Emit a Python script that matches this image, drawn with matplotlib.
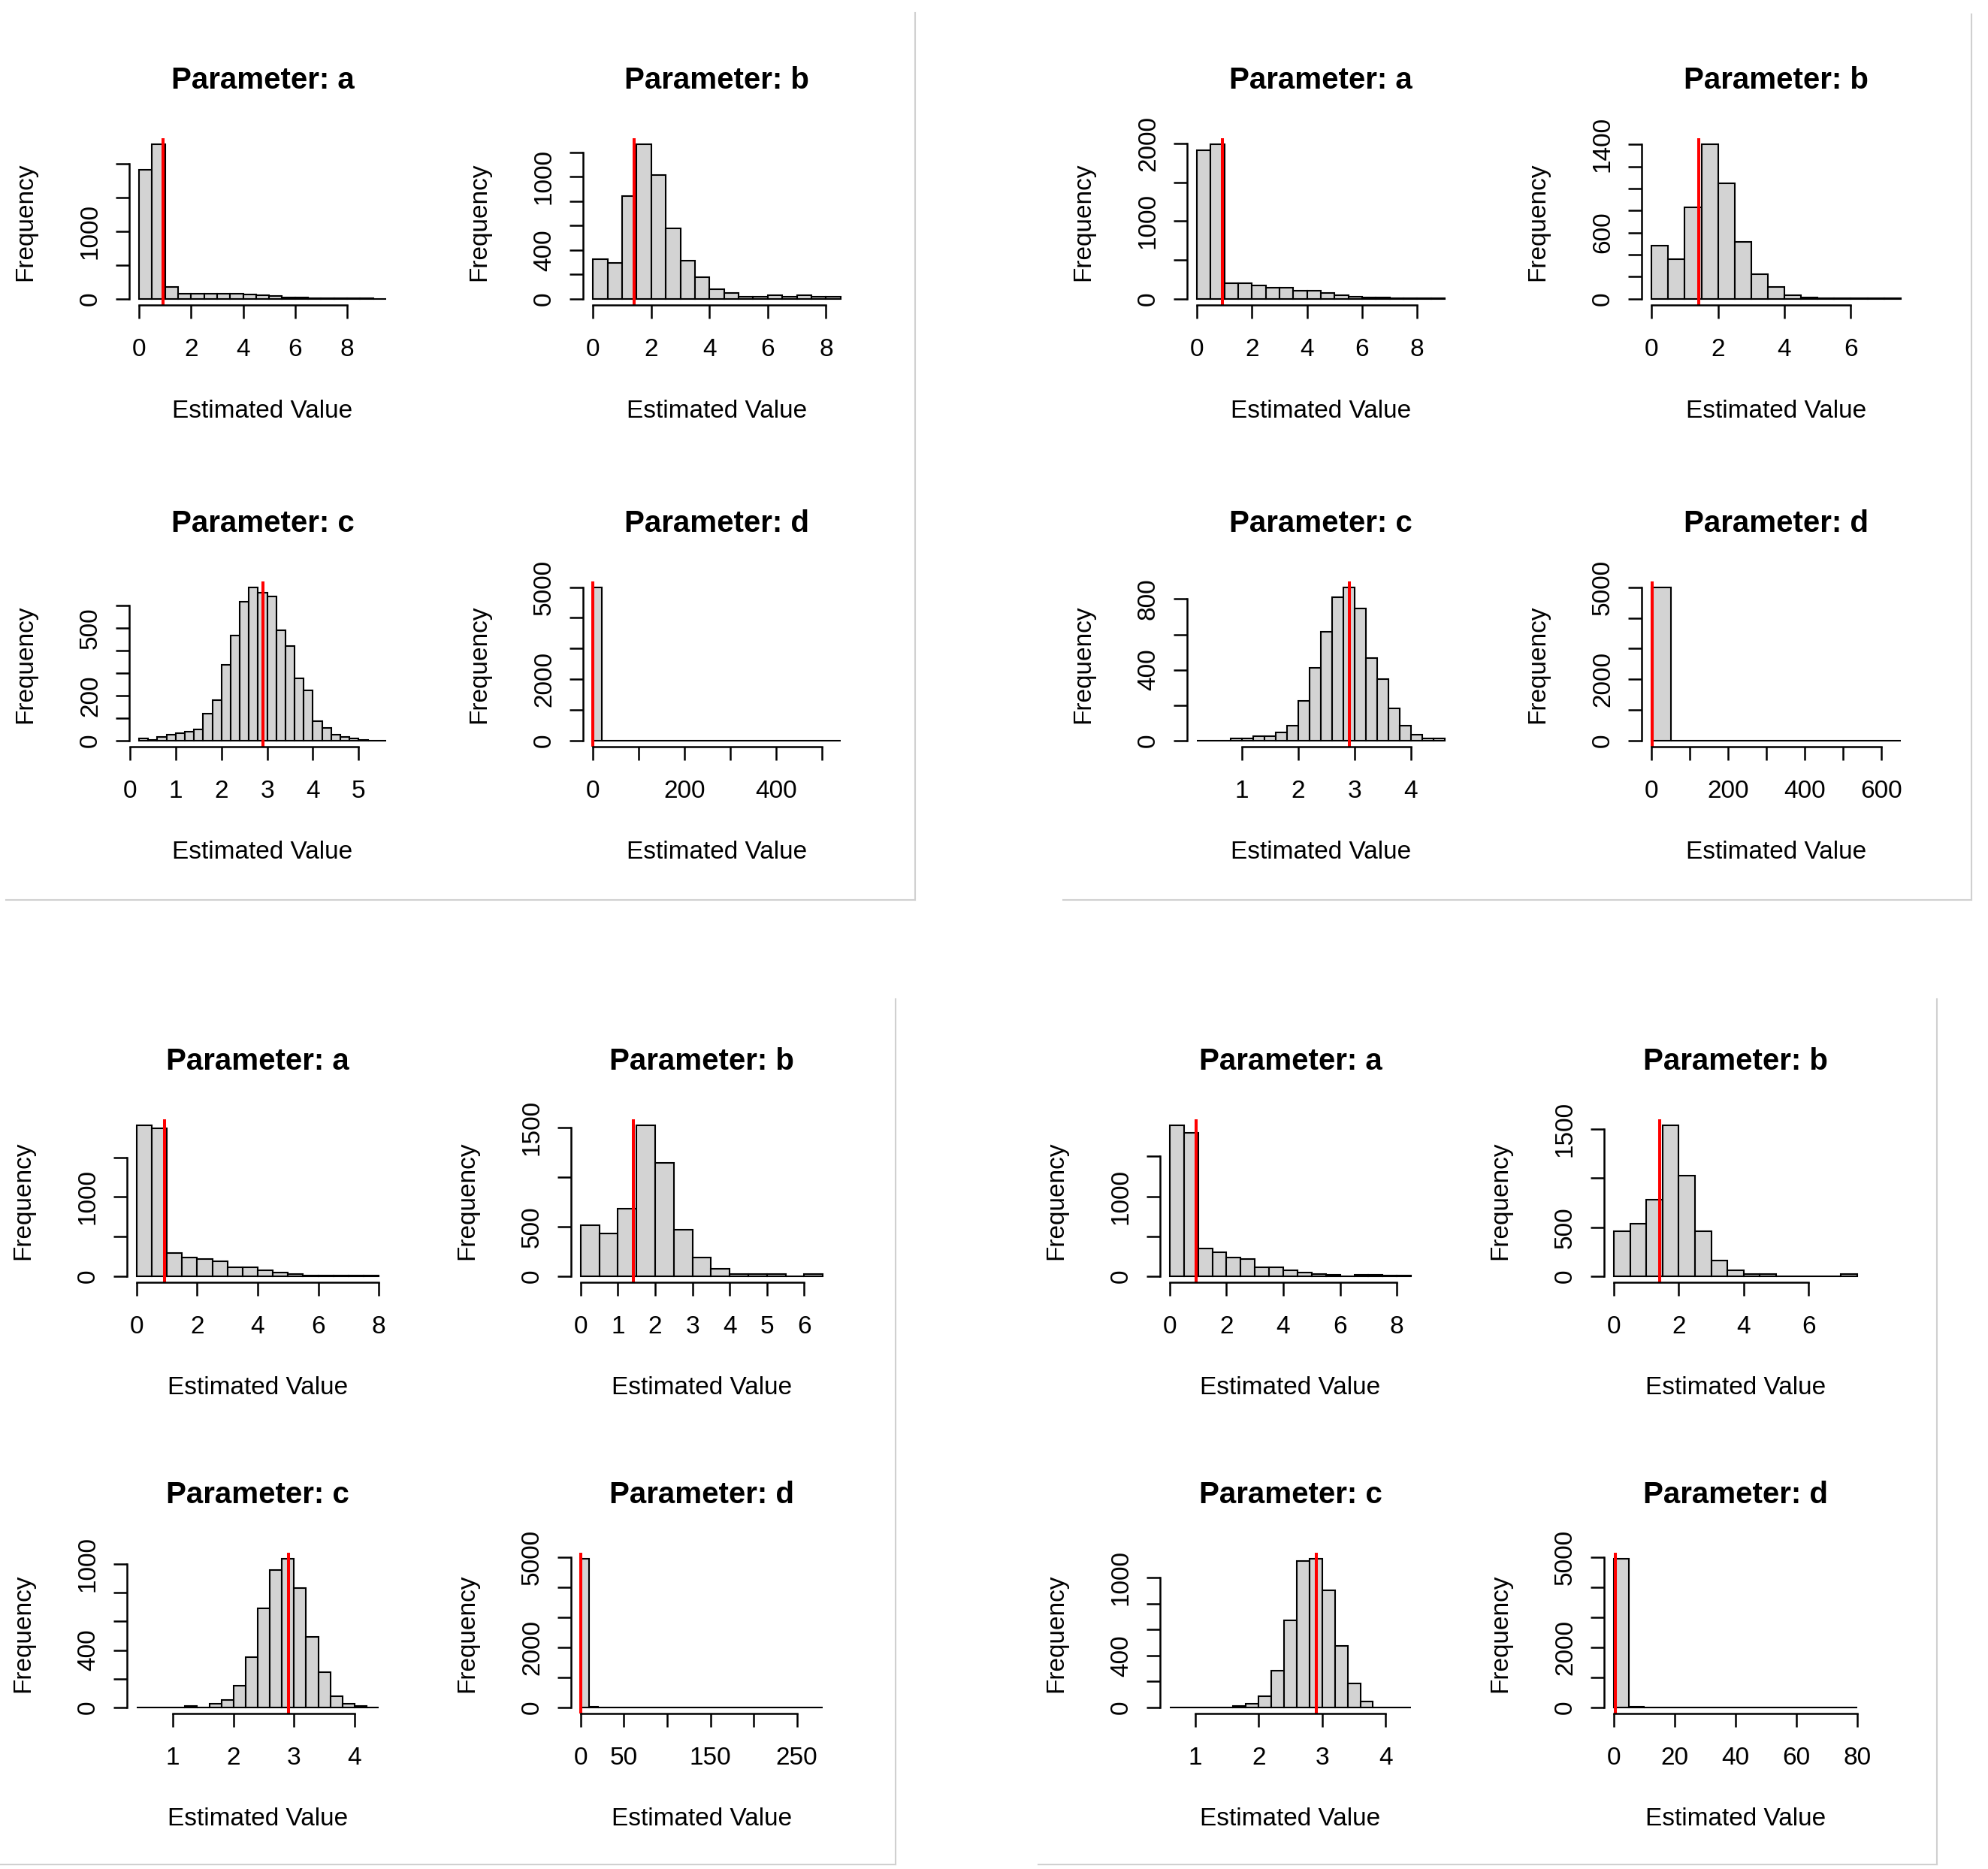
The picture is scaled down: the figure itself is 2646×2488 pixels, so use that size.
import numpy as np
import matplotlib
matplotlib.use('Agg')
import matplotlib.pyplot as plt
from matplotlib.lines import Line2D

W, H = 2646, 2488

# bin counts (one list per quadrant / parameter)
tl_a = [1919, 2293, 174, 80, 76, 75, 73, 72, 70, 50, 45, 20, 16, 13, 10, 8, 6, 4, 3]
tl_b = [326, 296, 842, 1264, 1013, 576, 311, 175, 79, 47, 19, 19, 32, 19, 30, 18, 15]
tl_c = [8, 3, 17, 25, 32, 40, 48, 120, 181, 338, 467, 616, 680, 658, 642, 489, 420,
        277, 224, 87, 56, 25, 16, 8, 2, 1, 1]
tl_d = [4985, 3, 2, 1, 1, 0, 1, 0, 0, 1, 0, 0, 0, 1, 0, 0, 0, 0, 1, 0, 0, 0, 0, 0, 1, 0, 1]

tr_a = [1910, 1990, 198, 198, 174, 147, 147, 100, 100, 74, 44, 25, 20, 15, 12, 10, 8, 6]
tr_b = [484, 361, 831, 1400, 1050, 515, 224, 106, 35, 10, 8, 5, 4, 3, 3]
tr_c = [0, 0, 0, 10, 11, 23, 23, 44, 86, 225, 412, 615, 810, 865, 747, 467, 347, 184,
        86, 34, 10, 10]
tr_d = [4990, 4, 2, 1, 0, 0, 1, 0, 0, 0, 0, 1, 1]

bl_a = [1903, 1864, 289, 236, 213, 190, 118, 118, 75, 46, 26, 12, 10, 8, 6, 5]
bl_b = [511, 428, 682, 1521, 1146, 472, 191, 79, 21, 21, 21, 3, 21]
bl_c = [0, 0, 0, 0, 13, 2, 27, 54, 154, 353, 691, 958, 1036, 832, 494, 248, 81, 27, 13, 1]
bl_d = [4960, 20, 6, 3, 2, 1, 1, 0, 1, 0, 1, 0, 0, 1, 0, 0, 0, 1, 0, 0, 0, 0, 0, 0, 1,
        0, 0, 1]

br_a = [1890, 1800, 352, 303, 238, 212, 117, 117, 75, 46, 26, 20, 3, 18, 15, 12, 10]
br_b = [457, 536, 780, 1540, 1027, 459, 159, 61, 21, 21, 3, 2, 2, 2, 20]
br_c = [0, 0, 0, 0, 0, 14, 30, 86, 285, 671, 1129, 1145, 900, 472, 185, 46, 0, 0, 1]
br_d = [4940, 30, 10, 5, 3, 2, 1, 1, 1, 0, 1, 0, 1, 0, 0, 1]

# first break and bin width
bins_a = (0, 0.5)
bins_b = (0, 0.5)
bins_c = {'tl': (0.2, 0.2), 'tr': (0.2, 0.2), 'bl': (0.4, 0.2), 'br': (0.6, 0.2)}
bins_d = {'tl': (0, 20), 'tr': (0, 50), 'bl': (0, 10), 'br': (0, 5)}

# true values (red lines)
true_vals = {'a': 0.93, 'b': 1.42, 'c': 2.91, 'd': 0.5}

# y ticks and the labels R kept
yt_tl = {'a': ([0, 500, 1000, 1500, 2000], [0, 1000]),
         'b': ([0, 200, 400, 600, 800, 1000, 1200], [0, 400, 1000]),
         'c': ([0, 100, 200, 300, 400, 500, 600], [0, 200, 500]),
         'd': ([0, 1000, 2000, 3000, 4000, 5000], [0, 2000, 5000])}
yt_tr = {'a': ([0, 500, 1000, 1500, 2000], [0, 1000, 2000]),
         'b': ([0, 200, 400, 600, 800, 1000, 1200, 1400], [0, 600, 1400]),
         'c': ([0, 200, 400, 600, 800], [0, 400, 800]),
         'd': ([0, 1000, 2000, 3000, 4000, 5000], [0, 2000, 5000])}
yt_bl = {'a': ([0, 500, 1000, 1500], [0, 1000]),
         'b': ([0, 500, 1000, 1500], [0, 500, 1500]),
         'c': ([0, 200, 400, 600, 800, 1000], [0, 400, 1000]),
         'd': ([0, 1000, 2000, 3000, 4000, 5000], [0, 2000, 5000])}
yt_br = {'a': ([0, 500, 1000, 1500], [0, 1000]),
         'b': ([0, 500, 1000, 1500], [0, 500, 1500]),
         'c': ([0, 200, 400, 600, 800, 1000], [0, 400, 1000]),
         'd': ([0, 1000, 2000, 3000, 4000, 5000], [0, 2000, 5000])}

# x ticks and the labels shown
xt_tl = {'a': ([0, 2, 4, 6, 8], [0, 2, 4, 6, 8]),
         'b': ([0, 2, 4, 6, 8], [0, 2, 4, 6, 8]),
         'c': ([0, 1, 2, 3, 4, 5], [0, 1, 2, 3, 4, 5]),
         'd': ([0, 100, 200, 300, 400, 500], [0, 200, 400])}
xt_tr = {'a': ([0, 2, 4, 6, 8], [0, 2, 4, 6, 8]),
         'b': ([0, 2, 4, 6], [0, 2, 4, 6]),
         'c': ([1, 2, 3, 4], [1, 2, 3, 4]),
         'd': ([0, 100, 200, 300, 400, 500, 600], [0, 200, 400, 600])}
xt_bl = {'a': ([0, 2, 4, 6, 8], [0, 2, 4, 6, 8]),
         'b': ([0, 1, 2, 3, 4, 5, 6], [0, 1, 2, 3, 4, 5, 6]),
         'c': ([1, 2, 3, 4], [1, 2, 3, 4]),
         'd': ([0, 50, 100, 150, 200, 250], [0, 50, 150, 250])}
xt_br = {'a': ([0, 2, 4, 6, 8], [0, 2, 4, 6, 8]),
         'b': ([0, 2, 4, 6], [0, 2, 4, 6]),
         'c': ([1, 2, 3, 4], [1, 2, 3, 4]),
         'd': ([0, 20, 40, 60, 80], [0, 20, 40, 60, 80])}

counts = {'tl': {'a': tl_a, 'b': tl_b, 'c': tl_c, 'd': tl_d},
          'tr': {'a': tr_a, 'b': tr_b, 'c': tr_c, 'd': tr_d},
          'bl': {'a': bl_a, 'b': bl_b, 'c': bl_c, 'd': bl_d},
          'br': {'a': br_a, 'b': br_b, 'c': br_c, 'd': br_d}}
yticks = {'tl': yt_tl, 'tr': yt_tr, 'bl': yt_bl, 'br': yt_br}
xticks = {'tl': xt_tl, 'tr': xt_tr, 'bl': xt_bl, 'br': xt_br}

# plot regions in pixels: columns (x0, x1), rows (y0, y1)
layout = {'tl': ([(172, 527), (776, 1132)], [(184, 406), (774, 994)]),
          'tr': ([(1580, 1936), (2185, 2543)], [(184, 406), (774, 994)]),
          'bl': ([(169, 517), (760, 1108)], [(1490, 1707), (2067, 2281)]),
          'br': ([(1544, 1891), (2135, 2485)], [(1490, 1707), (2067, 2281)])}

plt.rcParams['font.family'] = ['Liberation Sans', 'DejaVu Sans']

fig = plt.figure(figsize=(W / 100, H / 100), dpi=100)


def fmt(v):
    return str(int(v)) if float(v).is_integer() else str(v)


for q, (cols, rows) in layout.items():
    for i, p in enumerate(['a', 'b', 'c', 'd']):
        x0, x1 = cols[i % 2]
        y0, y1 = rows[i // 2]
        wpx, hpx = x1 - x0, y1 - y0
        ax = fig.add_axes([x0 / W, 1 - y1 / H, wpx / W, hpx / H])

        cnt = np.asarray(counts[q][p], dtype=float)
        if p == 'a':
            start, width = bins_a
        elif p == 'b':
            start, width = bins_b
        elif p == 'c':
            start, width = bins_c[q]
        else:
            start, width = bins_d[q]
        edges = start + width * np.arange(len(cnt) + 1)
        ax.bar(edges[:-1], cnt, width=width, align='edge', color='#D3D3D3',
               edgecolor='black', linewidth=1.5)
        pad = 0.04 * (edges[-1] - edges[0])
        ax.set_xlim(edges[0] - pad, edges[-1] + pad)
        ax.set_ylim(-0.04 * cnt.max(), 1.04 * cnt.max())
        ax.axvline(true_vals[p], color='red', lw=2.9)

        yt, ylab = yticks[q][p]
        xt, xlab = xticks[q][p]
        ax.set_yticks(yt)
        ax.set_yticklabels([fmt(v) if v in ylab else '' for v in yt])
        ax.set_xticks(xt)
        ax.set_xticklabels([fmt(v) if v in xlab else '' for v in xt])

        for s in ['top', 'right']:
            ax.spines[s].set_visible(False)
        ax.spines['left'].set_bounds(yt[0], yt[-1])
        ax.spines['bottom'].set_bounds(xt[0], xt[-1])
        ax.spines['left'].set_linewidth(1.8)
        ax.spines['bottom'].set_linewidth(1.8)
        ax.tick_params(length=13, width=1.8, labelsize=24)
        ax.tick_params(axis='x', pad=19)
        ax.tick_params(axis='y', pad=13, labelrotation=90)
        plt.setp(ax.get_yticklabels(), va='center')

        ax.set_xlabel('Estimated Value', fontsize=24)
        ax.xaxis.set_label_coords(0.5, -141 / hpx)
        ax.xaxis.label.set_va('center')
        ax.set_ylabel('Frequency', fontsize=24)
        ax.yaxis.set_label_coords(-138 / wpx, 0.5)
        ax.yaxis.label.set_va('center')
        ax.set_title(f'Parameter: {p}', fontsize=29, fontweight='bold',
                     y=1 + 77 / hpx, pad=0, va='center')

# light grey frame lines around each screenshot
frames = [((1218, 17), (1218, 1198)), ((8, 1198), (1218, 1198)),
          ((2624, 19), (2624, 1198)), ((1415, 1198), (2624, 1198)),
          ((1192, 1330), (1192, 2482)), ((0, 2482), (1192, 2482)),
          ((2578, 1330), (2578, 2482)), ((1382, 2482), (2578, 2482))]
for (xa, ya), (xb, yb) in frames:
    fig.add_artist(Line2D([xa / W, xb / W], [1 - ya / H, 1 - yb / H],
                          transform=fig.transFigure, color='#D0D0D0', lw=1.5))

fig.savefig('out.png', dpi=100)
